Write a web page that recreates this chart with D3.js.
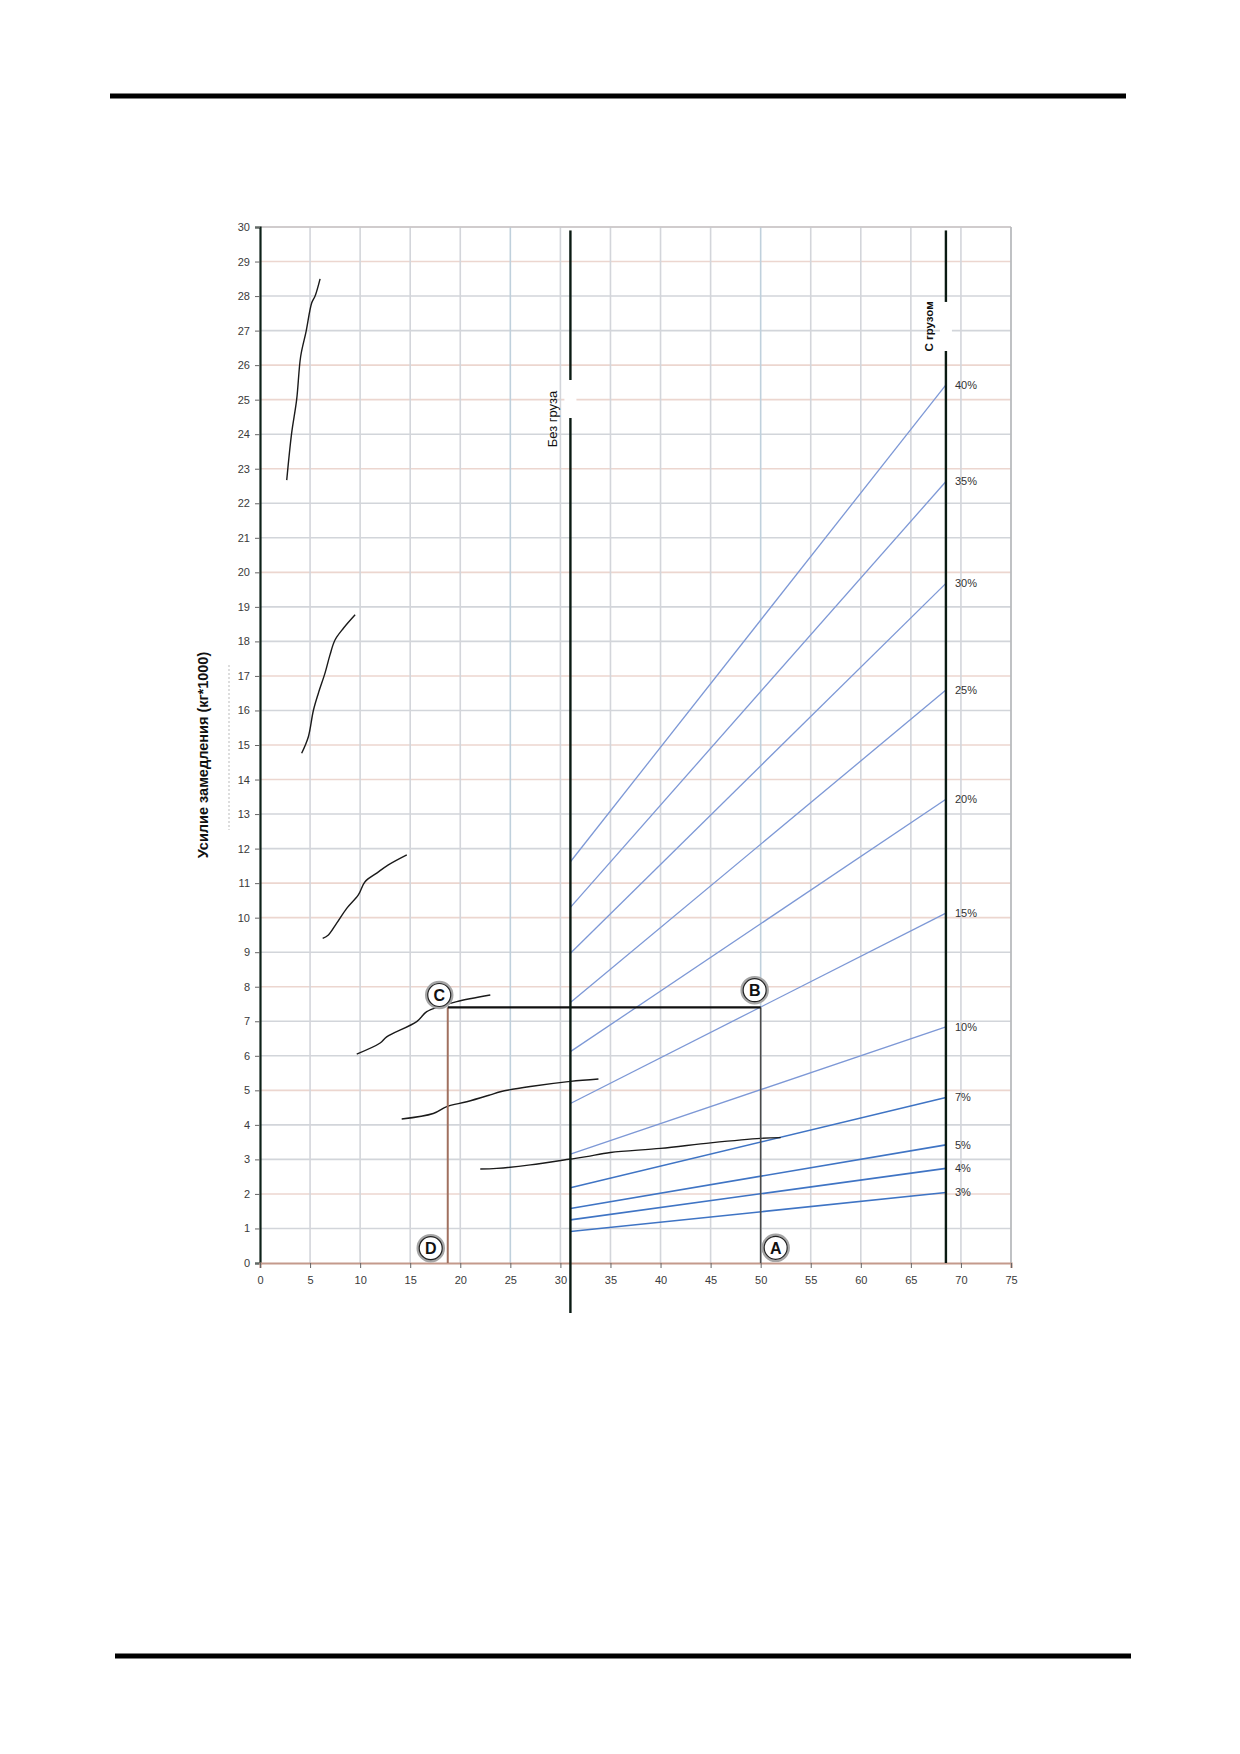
<!DOCTYPE html>
<html>
<head>
<meta charset="utf-8">
<script src="https://cdn.jsdelivr.net/npm/d3@7"></script>
<style>
  body { margin: 0; background: #fff; }
  svg { display: block; font-family: "Liberation Sans", Arial, sans-serif; }
  .tick text { fill: #3a3a3a; font-size: 11px; }
</style>
</head>
<body>
<svg id="chart" width="1240" height="1754"></svg>
<script>
// ── DATA ───────────────────────────────────────────────────────
const xTicks = d3.range(0, 76, 5);
const yTicks = d3.range(0, 31, 1);

// grade lines (blue), value at "Без груза" (x=31) and "С грузом" (x=68.5)
const gradeX = [31, 68.5];
const gradeNames = ["40%", "35%", "30%", "25%", "20%", "15%", "10%", "7%", "5%", "4%", "3%"];
const gradeValues = [
  [11.62, 25.43],
  [10.30, 22.63],
  [8.97, 19.68],
  [7.54, 16.59],
  [6.12, 13.43],
  [4.62, 10.13],
  [3.15, 6.84],
  [2.18, 4.79],
  [1.58, 3.42],
  [1.25, 2.74],
  [0.91, 2.04]
];

// hand drawn black curves
const curves = [
  [[2.67, 22.67], [3.16, 24.03], [3.66, 25.0], [4.06, 26.25], [4.6, 26.97], [5.16, 27.8], [5.5, 28.0], [6.0, 28.5]],
  [[4.16, 14.76], [4.83, 15.24], [5.33, 16.0], [5.83, 16.5], [6.49, 17.08], [6.99, 17.61], [7.49, 18.04], [8.33, 18.38], [9.5, 18.77]],
  [[6.26, 9.40], [6.83, 9.50], [7.66, 9.84], [8.66, 10.27], [9.82, 10.66], [10.49, 11.04], [11.66, 11.29], [12.82, 11.53], [14.66, 11.82]],
  [[9.66, 6.05], [12.0, 6.37], [12.65, 6.55], [15.65, 6.99], [16.65, 7.28], [18.0, 7.43], [19.65, 7.57], [23.0, 7.76]],
  [[14.15, 4.17], [17.3, 4.33], [18.65, 4.53], [20.65, 4.67], [23.0, 4.87], [24.0, 4.96], [27.0, 5.11], [31.0, 5.26], [33.8, 5.33]],
  [[22.0, 2.72], [23.65, 2.74], [27.0, 2.84], [31.0, 3.01], [32.6, 3.08], [35.0, 3.2], [40.0, 3.32], [45.0, 3.48], [50.0, 3.61], [52.0, 3.63]]
];

// reading example  D -> C -> B -> A
const exampleX = [18.75, 50];
const exampleY = 7.4;
const markers = [
  { label: "C", x: 17.9, y: 7.76 },
  { label: "D", x: 17.05, y: 0.43 },
  { label: "B", x: 49.4, y: 7.9 },
  { label: "A", x: 51.5, y: 0.44 }
];

// load state lines: x, bottom, top, gap
const loadLines = [
  { label: "Без груза", x: 31, y0: -1.45, y1: 29.9, gap: [24.47, 25.57], bold: false },
  { label: "С грузом", x: 68.5, y0: 0, y1: 29.9, gap: [26.41, 27.83], bold: true }
];

const yTitle = "Усилие замедления (кг*1000)";

// ── SCALES ─────────────────────────────────────────────────────
const svg = d3.select("#chart");

const xScale = d3.scaleLinear().domain([0, 75]).range([260, 1011]);
const yScale = d3.scaleLinear().domain([0, 30]).range([1263, 227]);

// page rules top and bottom
svg.append("line")
  .attr("x1", 110).attr("x2", 1126).attr("y1", 96).attr("y2", 96)
  .attr("stroke", "#000").attr("stroke-width", 5);
svg.append("line")
  .attr("x1", 115).attr("x2", 1131).attr("y1", 1656).attr("y2", 1656)
  .attr("stroke", "#000").attr("stroke-width", 5);

// ── GRID ───────────────────────────────────────────────────────
const grid = svg.append("g").attr("class", "grid");

grid.selectAll(".hgrid")
  .data(yTicks.filter(d => d > 0))
  .join("line")
    .attr("class", "hgrid")
    .attr("x1", xScale(0)).attr("x2", xScale(75))
    .attr("y1", d => yScale(d)).attr("y2", d => yScale(d))
    .attr("stroke", d => d % 5 === 0 || d % 3 === 2 ? "#ecd6cf" : "#d2d5da")
    .attr("stroke-width", 1.6);

grid.selectAll(".vgrid")
  .data(xTicks.filter(d => d > 0 && d < 75))
  .join("line")
    .attr("class", "vgrid")
    .attr("x1", d => xScale(d)).attr("x2", d => xScale(d))
    .attr("y1", yScale(30)).attr("y2", yScale(0))
    .attr("stroke", d => d % 25 === 0 ? "#bfd0dc" : "#d3d5da")
    .attr("stroke-width", 1.6);

// top and right border
grid.append("line")
  .attr("x1", xScale(0)).attr("x2", xScale(75))
  .attr("y1", yScale(30)).attr("y2", yScale(30))
  .attr("stroke", "#c4c6c9").attr("stroke-width", 1.6);
grid.append("line")
  .attr("x1", xScale(75)).attr("x2", xScale(75))
  .attr("y1", yScale(30)).attr("y2", yScale(0))
  .attr("stroke", "#b9bbbe").attr("stroke-width", 1.8);

// ── AXES ───────────────────────────────────────────────────────
const yAxis = svg.append("g")
  .attr("transform", `translate(${xScale(0)},0)`)
  .call(d3.axisLeft(yScale).tickValues(yTicks).tickSize(5).tickPadding(5).tickFormat(d3.format("d")));
yAxis.select(".domain").attr("stroke", "#0e2219").attr("stroke-width", 2.2);
yAxis.selectAll(".tick line").attr("stroke", "#666");

const xAxis = svg.append("g")
  .attr("transform", `translate(0,${yScale(0)})`)
  .call(d3.axisBottom(xScale).tickValues(xTicks).tickSize(5).tickPadding(8).tickFormat(d3.format("d")));
xAxis.select(".domain").attr("stroke", "#c49a8c").attr("stroke-width", 2.2);
xAxis.selectAll(".tick line").attr("stroke", "#666");

// faint artefact dashes next to the title
svg.append("line")
  .attr("x1", 229).attr("x2", 229).attr("y1", 665).attr("y2", 830)
  .attr("stroke", "#bbb").attr("stroke-width", 1).attr("stroke-dasharray", "2,2");

// y title
svg.append("text")
  .attr("transform", `translate(208,${(yScale(30) + yScale(0)) / 2 + 10}) rotate(-90)`)
  .attr("text-anchor", "middle")
  .attr("font-size", 14.5)
  .attr("font-weight", "bold")
  .attr("fill", "#111")
  .text(yTitle);

// ── GRADE LINES ────────────────────────────────────────────────
const gradeLine = d3.line()
  .x((d, i) => xScale(gradeX[i]))
  .y(d => yScale(d));

svg.selectAll(".grade")
  .data(gradeValues)
  .join("path")
    .attr("class", "grade")
    .attr("d", d => gradeLine(d))
    .attr("fill", "none")
    .attr("stroke", (d, i) => i >= 7 ? "#3f74c4" : "#7d98d6")
    .attr("stroke-width", (d, i) => i >= 7 ? 1.6 : 1.3);

svg.selectAll(".grade-label")
  .data(gradeValues)
  .join("text")
    .attr("class", "grade-label")
    .attr("x", xScale(68.5) + 9)
    .attr("y", d => yScale(d[d.length - 1]))
    .attr("dy", "0.35em")
    .attr("font-size", 11)
    .attr("fill", "#333")
    .text((d, i) => gradeNames[i]);

// ── HAND DRAWN CURVES ──────────────────────────────────────────
const curveLine = d3.line()
  .x(d => xScale(d[0]))
  .y(d => yScale(d[1]))
  .curve(d3.curveCatmullRom);

svg.selectAll(".curve")
  .data(curves)
  .join("path")
    .attr("class", "curve")
    .attr("d", curveLine)
    .attr("fill", "none")
    .attr("stroke", "#1a1a1a")
    .attr("stroke-width", 1.4);

// ── READING EXAMPLE ────────────────────────────────────────────
svg.append("line")
  .attr("x1", xScale(exampleX[0])).attr("x2", xScale(exampleX[0]))
  .attr("y1", yScale(exampleY)).attr("y2", yScale(0))
  .attr("stroke", "#a0705f").attr("stroke-width", 2);
svg.append("line")
  .attr("x1", xScale(exampleX[1])).attr("x2", xScale(exampleX[1]))
  .attr("y1", yScale(exampleY)).attr("y2", yScale(0))
  .attr("stroke", "#4a4a4a").attr("stroke-width", 1.6);
svg.append("line")
  .attr("x1", xScale(exampleX[0])).attr("x2", xScale(exampleX[1]))
  .attr("y1", yScale(exampleY)).attr("y2", yScale(exampleY))
  .attr("stroke", "#111").attr("stroke-width", 2.2);

// ── LOAD STATE LINES ───────────────────────────────────────────
loadLines.forEach(l => {
  const gx = xScale(l.x);
  svg.append("line")
    .attr("x1", gx).attr("x2", gx)
    .attr("y1", yScale(l.y0)).attr("y2", yScale(l.gap[0]))
    .attr("stroke", "#0a1a12").attr("stroke-width", 2.4);
  svg.append("line")
    .attr("x1", gx).attr("x2", gx)
    .attr("y1", yScale(l.gap[1])).attr("y2", yScale(l.y1))
    .attr("stroke", "#0a1a12").attr("stroke-width", 2.4);
  // white gap behind the label
  svg.append("rect")
    .attr("x", gx - 6).attr("width", 12)
    .attr("y", yScale(l.gap[1]) + 1).attr("height", yScale(l.gap[0]) - yScale(l.gap[1]) - 2)
    .attr("fill", "#fff");
  svg.append("text")
    .attr("transform", `translate(${gx - 13},${(yScale(l.gap[0]) + yScale(l.gap[1])) / 2 + (l.bold ? 0 : 20)}) rotate(-90)`)
    .attr("text-anchor", "middle")
    .attr("font-size", l.bold ? 11.5 : 13)
    .attr("font-weight", l.bold ? "bold" : "normal")
    .attr("fill", "#111")
    .text(l.label);
});

// ── CIRCLE MARKERS ─────────────────────────────────────────────
const mk = svg.selectAll(".marker")
  .data(markers)
  .join("g")
    .attr("class", "marker")
    .attr("transform", d => `translate(${xScale(d.x)},${yScale(d.y)})`);

mk.append("circle")
  .attr("r", 13)
  .attr("fill", "#fff")
  .attr("stroke", "#a5a5a5")
  .attr("stroke-width", 2.5);
mk.append("circle")
  .attr("r", 11.5)
  .attr("fill", "none")
  .attr("stroke", "#222")
  .attr("stroke-width", 1.2);
mk.append("text")
  .attr("text-anchor", "middle")
  .attr("dy", "0.36em")
  .attr("font-size", 16)
  .attr("font-weight", "bold")
  .attr("fill", "#111")
  .text(d => d.label);
</script>
</body>
</html>
